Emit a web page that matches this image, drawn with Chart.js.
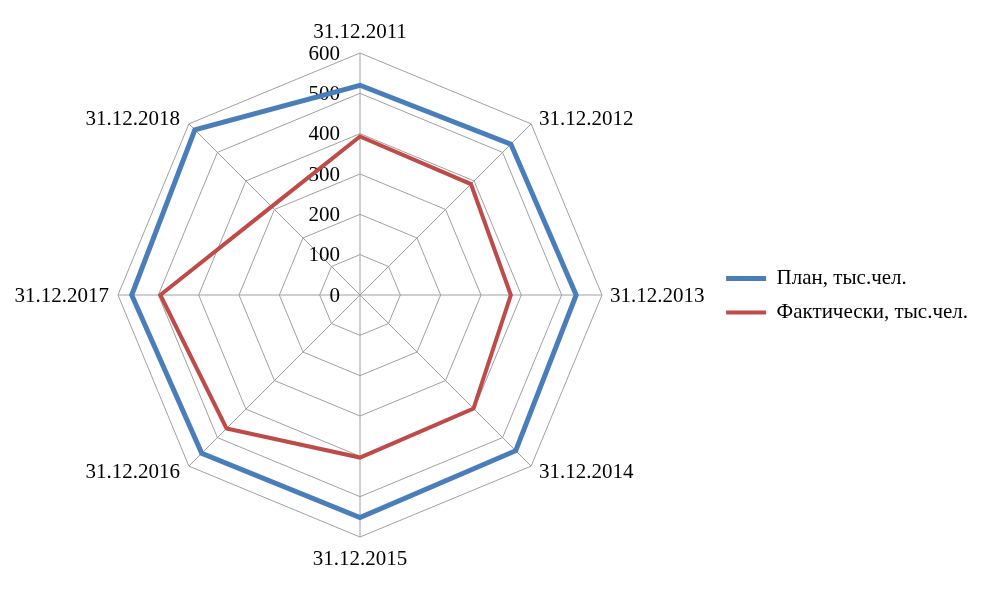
<!DOCTYPE html>
<html>
<head>
<meta charset="utf-8">
<script src="https://cdn.jsdelivr.net/npm/chart.js@4/dist/chart.umd.min.js"></script>
<style>
    html, body { margin: 0; padding: 0; background: #fff; }
    #wrap { width: 985px; height: 589px; }
</style>
</head>
<body>
<div id="wrap"><canvas id="chart" width="985" height="589"></canvas></div>
<script>
const dates = ["31.12.2011", "31.12.2012", "31.12.2013", "31.12.2014",
               "31.12.2015", "31.12.2016", "31.12.2017", "31.12.2018"];
const planValues = [520, 529, 536, 546, 552, 555, 566, 579];
const factValues = [393, 389, 374, 398, 403, 468, 495, 310];
const seriesNames = ["План, тыс.чел.", "Фактически, тыс.чел."];

const FONT = "'Liberation Serif', 'Times New Roman', serif";

// tick labels left of the vertical axis, date labels hugging the outer ring
const axisText = {
    id: "axisText",
    beforeDatasetsDraw(chart) {
        const r = chart.scales.r;
        const ctx = chart.ctx;
        ctx.save();
        ctx.font = "21px " + FONT;
        ctx.fillStyle = "#000";
        ctx.textBaseline = "middle";

        ctx.textAlign = "right";
        r.ticks.forEach(t => {
            const y = r.yCenter - r.getDistanceFromCenterForValue(t.value);
            ctx.fillText(String(t.value), r.xCenter - 20, y + 1);
        });

        dates.forEach((lbl, i) => {
            const p = r.getPointPosition(i, r.drawingArea);
            const a = r.getIndexAngle(i);
            const s = Math.sin(a), c = Math.cos(a);
            let x = p.x, y = p.y;
            if (Math.abs(s) < 0.1) {
                ctx.textAlign = "center";
                y += c > 0 ? -22 : 21;
            } else {
                ctx.textAlign = s > 0 ? "left" : "right";
                x += s > 0 ? 8 : -9;
                y -= c * 7;
            }
            ctx.fillText(lbl, x, y + 1);
        });
        ctx.restore();
    }
};

new Chart(document.getElementById("chart"), {
    type: "radar",
    data: {
        labels: dates,
        datasets: [
            {
                label: seriesNames[0],
                data: planValues,
                borderColor: "#4a7ebb",
                backgroundColor: "#4a7ebb",
                borderWidth: 5,
                pointRadius: 0,
                pointStyle: "line",
                fill: false
            },
            {
                label: seriesNames[1],
                data: factValues,
                borderColor: "#be4b48",
                backgroundColor: "#be4b48",
                borderWidth: 4,
                pointRadius: 0,
                pointStyle: "line",
                fill: false
            }
        ]
    },
    options: {
        responsive: false,
        animation: false,
        layout: { padding: { top: 53, bottom: 51, left: 7, right: 7 } },
        elements: { line: { tension: 0, borderJoinStyle: "miter" } },
        plugins: {
            tooltip: { enabled: false },
            legend: {
                position: "right",
                labels: {
                    usePointStyle: true,
                    pointStyleWidth: 40,
                    boxHeight: 6,
                    padding: 13,
                    color: "#000",
                    font: { family: FONT, size: 21 }
                }
            }
        },
        scales: {
            r: {
                min: 0,
                max: 600,
                ticks: { stepSize: 100, display: false },
                grid: { color: "#a0a0a0", lineWidth: 1, circular: false },
                angleLines: { color: "#a0a0a0", lineWidth: 1 },
                pointLabels: { display: false }
            }
        }
    },
    plugins: [axisText]
});
</script>
</body>
</html>
